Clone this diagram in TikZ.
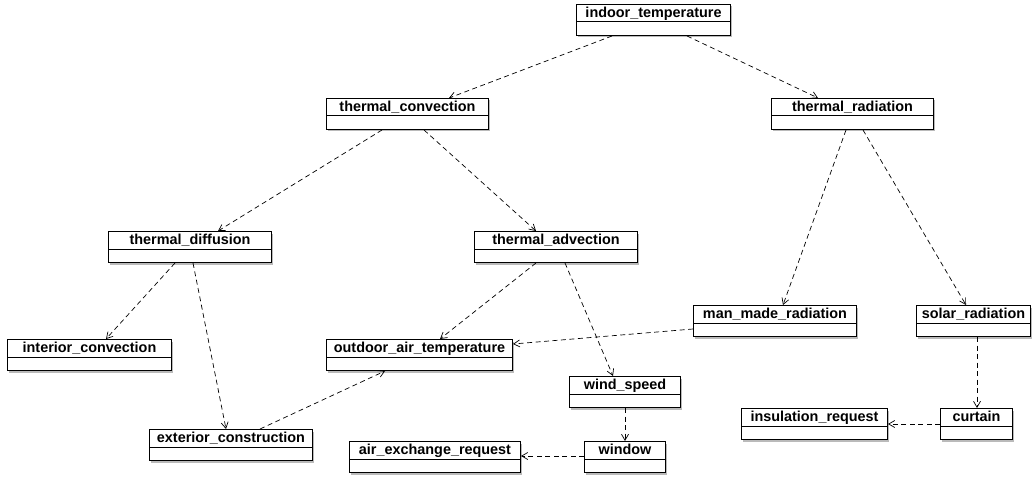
\documentclass[tikz,border=0pt]{standalone}
\usepackage{fontspec}
\setmainfont{Liberation Sans}
\usetikzlibrary{arrows.meta,shadows}

\begin{document}
\begin{tikzpicture}[
    x=1pt, y=-1pt,
    cls/.style={rectangle, draw, line width=1pt, fill=white, anchor=north west,
        inner sep=0pt, minimum height=31pt, text height=13pt, text depth=18pt,
        font=\fontsize{14.4}{16}\selectfont\bfseries,
        drop shadow={shadow xshift=1.8pt, shadow yshift=-2pt, fill=black!45, opacity=.6},
        path picture={\draw[line width=1pt] ([yshift=-17.5pt]path picture bounding box.north west) -- ([yshift=-17.5pt]path picture bounding box.north east);}},
    dep/.style={draw, dash pattern=on 5pt off 3.5pt, line width=0.7pt, -{Straight Barb[angle=60:7pt]}}
]
\useasboundingbox (0,0) rectangle (1032,478);

% Klassen
\node[cls, minimum width=154pt] (itemp) at (576,4) {indoor\_temperature};

\node[cls, minimum width=162pt] (tconv) at (326,98) {thermal\_convection};
\node[cls, minimum width=162pt] (trad) at (771,98) {thermal\_radiation};

\node[cls, minimum width=163pt] (tdiff) at (108,231) {thermal\_diffusion};
\node[cls, minimum width=163pt] (tadv) at (474,231) {thermal\_advection};

\node[cls, minimum width=163pt] (manrad) at (693,305) {man\_made\_radiation};
\node[cls, minimum width=114pt] (solrad) at (916,305) {solar\_radiation};
\node[cls, minimum width=164pt] (intconv) at (7,339) {interior\_convection};
\node[cls, minimum width=186pt] (outair) at (326,339) {outdoor\_air\_temperature};
\node[cls, minimum width=111pt] (wind) at (569,376) {wind\_speed};

\node[cls, minimum width=146pt] (insul) at (741,408) {insulation\_request};
\node[cls, minimum width=72pt] (curtain) at (940,408) {curtain};
\node[cls, minimum width=163pt] (extcon) at (149,429) {exterior\_construction};
\node[cls, minimum width=171pt] (airex) at (349,441) {air\_exchange\_request};
\node[cls, minimum width=81pt] (window) at (584,441) {window};

% Abhaengigkeiten
\draw[dep] ([xshift=36pt]itemp.south west) -- ([xshift=123pt]tconv.north west);
\draw[dep] ([xshift=111pt]itemp.south west) -- ([xshift=47pt]trad.north west);

\draw[dep] ([xshift=56pt]tconv.south west) -- ([xshift=110pt]tdiff.north west);
\draw[dep] ([xshift=98pt]tconv.south west) -- ([xshift=62pt]tadv.north west);
\draw[dep] ([xshift=75pt]trad.south west) -- ([xshift=90pt]manrad.north west);
\draw[dep] ([xshift=92pt]trad.south west) -- ([xshift=50pt]solrad.north west);

\draw[dep] ([xshift=67pt]tdiff.south west) -- ([xshift=99pt]intconv.north west);
\draw[dep] ([xshift=85pt]tdiff.south west) -- ([xshift=77pt]extcon.north west);
\draw[dep] ([xshift=62pt]tadv.south west) -- ([xshift=114pt]outair.north west);
\draw[dep] ([xshift=91pt]tadv.south west) -- ([xshift=44pt]wind.north west);

\draw[dep] ([yshift=-24pt]manrad.north west) -- ([yshift=-5pt]outair.north east);
\draw[dep] ([xshift=111pt]extcon.north west) -- ([xshift=59pt]outair.south west);
\draw[dep] ([xshift=56pt]wind.south west) -- ([xshift=41pt]window.north west);
\draw[dep] ([yshift=-15pt]window.north west) -- ([yshift=-15pt]airex.north east);
\draw[dep] ([xshift=61pt]solrad.south west) -- ([xshift=37pt]curtain.north west);
\draw[dep] ([yshift=-16pt]curtain.north west) -- ([yshift=-16pt]insul.north east);
\end{tikzpicture}
\end{document}
